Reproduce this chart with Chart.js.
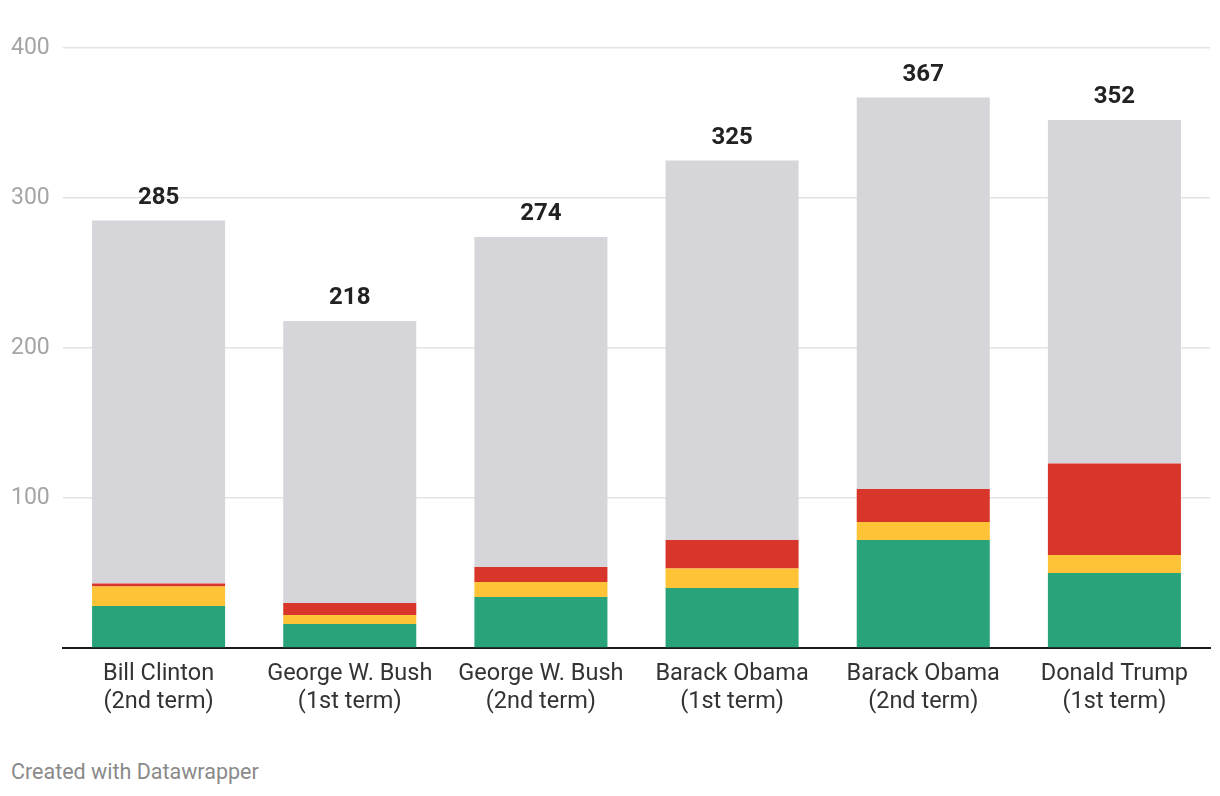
<!DOCTYPE html>
<html>
<head>
<meta charset="utf-8">
<script src="https://cdn.jsdelivr.net/npm/chart.js@4.4.0/dist/chart.umd.min.js"></script>
<style>
    body { margin: 0; background: #fff; font-family: Roboto, sans-serif; }
    #wrap { position: relative; width: 1220px; height: 745px; }
    #nota { position: absolute; left: 11px; top: 759px; font-size: 21.5px; color: #8a8a8a; font-family: Roboto, sans-serif; }
</style>
</head>
<body>
<div id="wrap"><canvas id="grafico"></canvas></div>
<div id="nota">Created with Datawrapper</div>
<script>
const categorias = [
    ['Bill Clinton', '(2nd term)'],
    ['George W. Bush', '(1st term)'],
    ['George W. Bush', '(2nd term)'],
    ['Barack Obama', '(1st term)'],
    ['Barack Obama', '(2nd term)'],
    ['Donald Trump', '(1st term)']
];
const totales = [285, 218, 274, 325, 367, 352];
const verde = [28, 16, 34, 40, 72, 50];
const amarillo = [13, 6, 10, 13, 12, 12];
const rojo = [2, 8, 10, 19, 22, 61];
const gris = [242, 188, 220, 253, 261, 229];
const ticksY = [0, 100, 200, 300, 400];

// etiquetas de total encima de cada barra
const totalesPlugin = {
    id: 'totales',
    afterDatasetsDraw(chart) {
        const ctx = chart.ctx;
        const meta = chart.getDatasetMeta(chart.data.datasets.length - 1);
        ctx.save();
        ctx.font = 'bold 24px Roboto';
        ctx.fillStyle = '#222';
        ctx.textAlign = 'center';
        ctx.textBaseline = 'middle';
        meta.data.forEach((bar, i) => {
            const y = chart.scales.y.getPixelForValue(totales[i]);
            ctx.fillText(totales[i], bar.x, y - 23);
        });
        ctx.restore();
    }
};

new Chart(document.getElementById('grafico').getContext('2d'), {
    type: 'bar',
    data: {
        labels: categorias,
        datasets: [
            { label: 'Verde', data: verde, backgroundColor: '#29a37a' },
            { label: 'Amarillo', data: amarillo, backgroundColor: '#fec337' },
            { label: 'Rojo', data: rojo, backgroundColor: '#d8362a' },
            { label: 'Gris', data: gris, backgroundColor: '#d6d6da' }
        ]
    },
    options: {
        responsive: true,
        maintainAspectRatio: false,
        animation: false,
        layout: { padding: { top: 48, right: 10, left: 11, bottom: 0 } },
        datasets: {
            bar: { categoryPercentage: 1, barPercentage: 0.696, borderWidth: 0 }
        },
        scales: {
            x: {
                stacked: true,
                grid: { display: false },
                border: { display: true, color: '#1a1a1a', width: 2 },
                afterFit: function(scale) {
                    scale.height = 97;
                },
                ticks: {
                    color: '#333',
                    font: { family: 'Roboto', size: 23.5, lineHeight: 1.2 },
                    padding: 4,
                    maxRotation: 0
                }
            },
            y: {
                stacked: true,
                min: 0,
                max: 400,
                afterBuildTicks: function(scale) {
                    scale.ticks = ticksY.map(v => ({ value: v }));
                },
                afterFit: function(scale) {
                    scale.width = 52;
                },
                grid: { color: '#e3e3e3', lineWidth: 1.5, drawTicks: false },
                border: { display: false },
                ticks: {
                    color: '#a5a5a5',
                    font: { family: 'Roboto', size: 23 },
                    crossAlign: 'far',
                    padding: 0,
                    callback: function(v) { return v === 0 ? '' : v; }
                }
            }
        },
        plugins: {
            legend: { display: false },
            tooltip: { enabled: false }
        }
    },
    plugins: [totalesPlugin]
});
</script>
</body>
</html>
